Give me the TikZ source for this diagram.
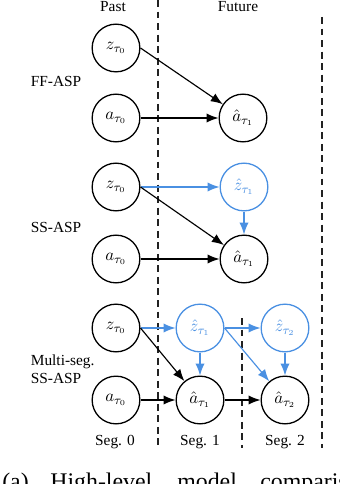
\documentclass[tikz,border=0pt]{standalone}
\usepackage{fontspec}
\setmainfont{Liberation Serif}
\usepackage{xcolor}
\usepackage{tikz}
\usetikzlibrary{arrows.meta,positioning}
\definecolor{cInk}{HTML}{000000}
\definecolor{cBlue}{HTML}{4A90E2}
\definecolor{cDash}{HTML}{222222}
\tikzset{
  vnode/.style={circle,draw=#1,line width=0.85pt,minimum size=31pt,inner sep=0pt,text=#1,font=\fontsize{11}{13}\selectfont},
  vnode/.default=cInk,
  arr/.style={-{Latex[length=7.8pt,width=6pt]},line width=0.75pt,color=#1},
  arr/.default=cInk,
  sepline/.style={dash pattern=on 4.5pt off 3pt,line width=0.75pt,color=cDash},
  lbl/.style={font=\normalsize,inner sep=1pt},
}

\begin{document}
\begin{tikzpicture}[x=0.65pt,y=-0.65pt]
  \useasboundingbox (0,0) rectangle (340,484);
  \clip (0,0) rectangle (340,484);
  % segment borders
  \draw[sepline] (158,0) -- (158,448);
  \draw[sepline] (322,17) -- (322,448);
  \draw[sepline] (242,318) -- (242,448);
  \node[lbl] (past) at (113,7) {Past};
  \node[lbl] (future) at (238,7) {Future};

  % FF-ASP
  \node[lbl,anchor=west] (ffl) at (29,81) {FF-ASP};
  \node[vnode] (zA) at (116,48) {$z_{\tau_0}$};
  \node[vnode] (aA) at (116,118) {$a_{\tau_0}$};
  \node[vnode] (haA) at (243,118) {$\hat{a}_{\tau_1}$};
  \draw[arr] (zA.east) -- (haA);
  \draw[arr] (aA) -- (haA);

  % SS-ASP
  \node[lbl,anchor=west] (ssl) at (29,227) {SS-ASP};
  \node[vnode] (zB) at (116,187) {$z_{\tau_0}$};
  \node[vnode] (aB) at (116,259) {$a_{\tau_0}$};
  \node[vnode=cBlue] (hzB) at (244,187) {$\hat{z}_{\tau_1}$};
  \node[vnode] (haB) at (244,259) {$\hat{a}_{\tau_1}$};
  \draw[arr=cBlue] (zB.east) -- (hzB);
  \draw[arr] (zB.east) -- (haB);
  \draw[arr=cBlue] (hzB) -- (haB);
  \draw[arr] (aB) -- (haB);

  % Multi-seg. SS-ASP
  \node[lbl,anchor=west,align=left] (msl) at (29,369) {Multi-seg.\\SS-ASP};
  \node[vnode] (zC) at (116,328) {$z_{\tau_0}$};
  \node[vnode] (aC) at (116,400) {$a_{\tau_0}$};
  \node[vnode=cBlue] (hzC1) at (200,328) {$\hat{z}_{\tau_1}$};
  \node[vnode] (haC1) at (200,400) {$\hat{a}_{\tau_1}$};
  \node[vnode=cBlue] (hzC2) at (285,328) {$\hat{z}_{\tau_2}$};
  \node[vnode] (haC2) at (285,400) {$\hat{a}_{\tau_2}$};
  \draw[arr=cBlue] (zC.east) -- (hzC1);
  \draw[arr] (zC.east) -- (haC1);
  \draw[arr=cBlue] (hzC1) -- (haC1);
  \draw[arr=cBlue] (hzC1.east) -- (hzC2);
  \draw[arr=cBlue] (hzC1.east) -- (haC2);
  \draw[arr=cBlue] (hzC2) -- (haC2);
  \draw[arr] (aC) -- (haC1);
  \draw[arr] (haC1) -- (haC2);
  \node[lbl] (seg0) at (115,442) {Seg. 0};
  \node[lbl] (seg1) at (200,442) {Seg. 1};
  \node[lbl] (seg2) at (285,442) {Seg. 2};

  % caption, cut off by the frame
  \begin{scope}[font=\fontsize{15.5}{18}\selectfont,inner sep=0pt]
    \node[anchor=base west] (capa) at (2,489) {(a)};
    \node[anchor=base west] (capb) at (50,489) {High-level};
    \node[anchor=base west] (capc) at (177,489) {model};
    \node[anchor=base west] (capd) at (260,489) {comparison};
  \end{scope}
\end{tikzpicture}
\end{document}
